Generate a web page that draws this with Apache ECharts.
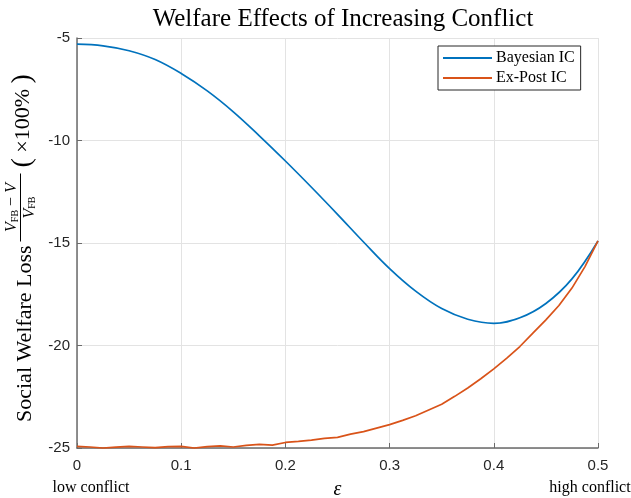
<!DOCTYPE html>
<html>
<head>
<meta charset="utf-8">
<script src="https://cdn.jsdelivr.net/npm/echarts@6/dist/echarts.min.js"></script>
<style>
html,body{margin:0;padding:0;background:#fff;}
#chart{width:631px;height:498px;}
</style>
</head>
<body>
<div id="chart"></div>
<script>
const titleText = 'Welfare Effects of Increasing Conflict';
const seriesNames = ['Bayesian IC', 'Ex-Post IC'];
const xTicks = [0, 0.1, 0.2, 0.3, 0.4, 0.5];
const yTicks = [-25, -20, -15, -10, -5];

const epsBayes = [0, 0.025, 0.05, 0.075, 0.1, 0.125, 0.15, 0.175, 0.2, 0.225, 0.25,
  0.275, 0.3, 0.325, 0.35, 0.375, 0.4, 0.425, 0.45, 0.475, 0.5];
const lossBayes = [-5.30, -5.38, -5.62, -6.05, -6.73, -7.58, -8.60, -9.77, -11.00, -12.28, -13.60,
  -14.95, -16.25, -17.35, -18.20, -18.72, -18.92, -18.65, -17.95, -16.75, -14.90];

const epsExPost = [0, 0.0125, 0.025, 0.0375, 0.05, 0.0625, 0.075, 0.0875, 0.1, 0.1125, 0.125,
  0.1375, 0.15, 0.1625, 0.175, 0.1875, 0.2, 0.2125, 0.225, 0.2375, 0.25,
  0.2625, 0.275, 0.2875, 0.3, 0.3125, 0.325, 0.3375, 0.35, 0.3625, 0.375,
  0.3875, 0.4, 0.4125, 0.425, 0.4375, 0.45, 0.4625, 0.475, 0.4875, 0.5];
const lossExPost = [-24.92, -24.95, -25.00, -24.96, -24.92, -24.95, -24.98, -24.93, -24.92, -25.00, -24.93,
  -24.90, -24.95, -24.87, -24.82, -24.86, -24.73, -24.68, -24.62, -24.53, -24.48,
  -24.32, -24.20, -24.03, -23.86, -23.65, -23.43, -23.15, -22.87, -22.48, -22.07,
  -21.62, -21.14, -20.62, -20.05, -19.40, -18.75, -18.05, -17.20, -16.15, -14.90];

const blue = '#0072BD';
const orange = '#D95319';
const axisColor = '#6b6b6b';
const textColor = '#262626';

const chart = echarts.init(document.getElementById('chart'), null, {renderer: 'canvas'});

const serif = '"Liberation Serif", "Times New Roman", serif';
const sans = '"Liberation Sans", Arial, sans-serif';

chart.setOption({
  animation: false,
  backgroundColor: '#fff',
  title: {
    text: titleText,
    left: 338,
    top: 2,
    textAlign: 'center',
    textStyle: {fontFamily: serif, fontSize: 25, fontWeight: 'normal', color: '#000'}
  },
  legend: {
    orient: 'vertical',
    left: 438,
    top: 46,
    padding: [4, 6, 4, 5],
    itemGap: 4,
    itemWidth: 49,
    itemHeight: 2,
    icon: 'rect',
    borderColor: '#262626',
    borderWidth: 1,
    backgroundColor: '#fff',
    data: seriesNames,
    textStyle: {fontFamily: serif, fontSize: 16, color: '#000', padding: [0, 0, 0, -1]}
  },
  grid: {left: 77, right: 33, top: 38, bottom: 50, containLabel: false},
  xAxis: {
    type: 'value',
    min: xTicks[0],
    max: xTicks[xTicks.length - 1],
    interval: 0.1,
    axisLine: {show: true, onZero: false, lineStyle: {color: axisColor, width: 1.5}},
    axisTick: {show: true, inside: true, length: 5, lineStyle: {color: axisColor, width: 1}},
    axisLabel: {margin: 10, fontFamily: sans, fontSize: 15, color: textColor,
      formatter: v => String(Math.round(v * 10) / 10)},
    splitLine: {show: true, lineStyle: {color: '#e3e3e3', width: 1}}
  },
  yAxis: {
    type: 'value',
    min: yTicks[0],
    max: yTicks[yTicks.length - 1],
    interval: 5,
    axisLine: {show: true, onZero: false, lineStyle: {color: axisColor, width: 1.5}},
    axisTick: {show: true, inside: true, length: 5, lineStyle: {color: axisColor, width: 1}},
    axisLabel: {margin: 7, fontFamily: sans, fontSize: 15, color: textColor},
    splitLine: {show: true, lineStyle: {color: '#e3e3e3', width: 1}}
  },
  series: [
    {
      name: seriesNames[0],
      type: 'line',
      data: epsBayes.map((x, i) => [x, lossBayes[i]]),
      smooth: 0.4,
      showSymbol: false,
      clip: false,
      lineStyle: {color: blue, width: 1.7},
      itemStyle: {color: blue},
      z: 3
    },
    {
      name: seriesNames[1],
      type: 'line',
      data: epsExPost.map((x, i) => [x, lossExPost[i]]),
      showSymbol: false,
      clip: false,
      lineStyle: {color: orange, width: 1.7},
      itemStyle: {color: orange},
      z: 4
    }
  ],
  graphic: [
    {
      type: 'group',
      x: 25,
      y: 243.5,
      rotation: Math.PI / 2,
      children: [
        {type: 'text', x: -178.5, y: 0,
          style: {text: 'Social Welfare Loss', font: '22px ' + serif, fill: '#000',
            textAlign: 'left', textVerticalAlign: 'middle', align: 'left', verticalAlign: 'middle'}},
        {type: 'text', x: 36, y: -13,
          style: {text: '{i|V}{s|FB}{n| − }{i|V}', fill: '#000',
            textAlign: 'center', textVerticalAlign: 'middle', align: 'center', verticalAlign: 'middle',
            rich: {
              i: {fontFamily: serif, fontStyle: 'italic', fontSize: 16, fill: '#000', color: '#000'},
              s: {fontFamily: serif, fontSize: 10, fill: '#000', color: '#000', verticalAlign: 'bottom'},
              n: {fontFamily: serif, fontSize: 16, fill: '#000', color: '#000'}
            }}},
        {type: 'line', shape: {x1: 2, y1: -4.5, x2: 70, y2: -4.5},
          style: {stroke: '#000', lineWidth: 1}},
        {type: 'text', x: 36, y: 4.5,
          style: {text: '{i|V}{s|FB}', fill: '#000',
            textAlign: 'center', textVerticalAlign: 'middle', align: 'center', verticalAlign: 'middle',
            rich: {
              i: {fontFamily: serif, fontStyle: 'italic', fontSize: 16, fill: '#000', color: '#000'},
              s: {fontFamily: serif, fontSize: 10, fill: '#000', color: '#000', verticalAlign: 'bottom'}
            }}},
        {type: 'text', x: 76, y: -2,
          style: {text: '{p|(}{t| ×100% }{p|)}', fill: '#000',
            textAlign: 'left', textVerticalAlign: 'middle', align: 'left', verticalAlign: 'middle',
            rich: {
              p: {fontFamily: serif, fontSize: 28, fill: '#000', color: '#000'},
              t: {fontFamily: serif, fontSize: 22, fill: '#000', color: '#000'}
            }}}
      ]
    },
    {type: 'text', x: 91, y: 488,
      style: {text: 'low conflict', font: '16px ' + serif, fill: '#000',
        textAlign: 'center', textVerticalAlign: 'middle', align: 'center', verticalAlign: 'middle'}},
    {type: 'text', x: 590, y: 488,
      style: {text: 'high conflict', font: '16px ' + serif, fill: '#000',
        textAlign: 'center', textVerticalAlign: 'middle', align: 'center', verticalAlign: 'middle'}},
    {type: 'text', x: 337.5, y: 490,
      style: {text: 'ε', font: 'italic 20px ' + serif, fill: '#000',
        textAlign: 'center', textVerticalAlign: 'middle', align: 'center', verticalAlign: 'middle'}}
  ]
});
</script>
</body>
</html>
